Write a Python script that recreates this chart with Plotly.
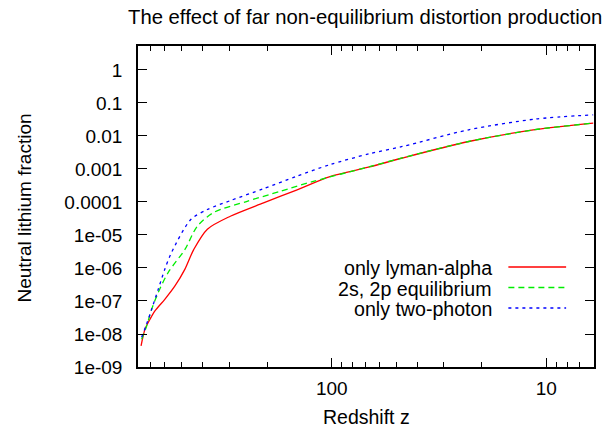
import plotly.graph_objects as go

# ---- data ----
z_red = [774, 742, 703, 667, 600, 539, 484, 440, 380, 297, 208, 146, 102, 66.7, 46.9, 23, 11.3, 6.05]
y_red = [4.4e-9, 1.4e-8, 2.8e-8, 5.0e-8, 1.12e-7, 2.8e-7, 9.1e-7, 3.6e-6, 1.5e-5, 3.7e-5, 9.4e-5, 2.3e-4, 5.9e-4, 1.15e-3, 2.15e-3, 6.8e-3, 0.0155, 0.0245]

z_green = [769, 729, 691, 644, 578, 484, 423, 355, 248, 174, 122, 66.7, 46.9, 23, 11.3, 6.05]
y_green = [6.9e-9, 1.75e-8, 5.6e-8, 1.8e-7, 7.4e-7, 3.6e-6, 1.85e-5, 4.8e-5, 1.05e-4, 2.1e-4, 4.2e-4, 1.17e-3, 2.17e-3, 6.8e-3, 0.0155, 0.0245]

z_blue = [769, 729, 691, 644, 600, 558, 454, 380, 297, 209, 146, 102, 66.7, 46.9, 23, 11.3, 6.05]
y_blue = [8.0e-9, 2.0e-8, 5.6e-8, 2.25e-7, 9.1e-7, 2.95e-6, 2.95e-5, 5.9e-5, 1.1e-4, 2.5e-4, 6.0e-4, 1.35e-3, 2.9e-3, 4.8e-3, 0.0154, 0.0324, 0.0437]

series_names = ["only lyman-alpha", "2s, 2p equilibrium", "only two-photon"]
series_colors = ["#ff0000", "#00ee00", "#0000ff"]
series_dash = ["solid", "6px,4px", "3px,4px"]

x_tickvals = [100, 10]
x_ticktext = ["100", "10"]
x_minor = [800, 700, 600, 500, 400, 300, 200, 90, 80, 70, 60, 50, 40, 30, 20, 9, 8, 7]
y_tickvals = [1, 0.1, 0.01, 0.001, 0.0001, 1e-5, 1e-6, 1e-7, 1e-8, 1e-9]
y_ticktext = ["1", "0.1", "0.01", "0.001", "0.0001", "1e-05", "1e-06", "1e-07", "1e-08", "1e-09"]

FONT = "Liberation Sans, Arial, sans-serif"
FS = 19

fig = go.Figure()
for zs, ys, name, col, dash in zip([z_red, z_green, z_blue], [y_red, y_green, y_blue],
                                   series_names, series_colors, series_dash):
    fig.add_trace(go.Scatter(x=zs, y=ys, mode="lines", name=name,
                             line=dict(color=col, width=1.3, dash=dash, shape="spline", smoothing=0.8),
                             showlegend=False))

# gnuplot-style legend: right aligned text, sample on right
L, R, T, B = 138, 12, 46, 61
W, H = 608 - L - R, 428 - T - B
def px(x): return (x - L) / W
def py(y): return (428 - B - y) / H

leg_y = [268, 288.5, 309]
for name, col, dash, yy in zip(series_names, series_colors, series_dash, leg_y):
    fig.add_annotation(x=px(496), y=py(yy), xref="paper", yref="paper", text=name,
                       showarrow=False, xanchor="right", yanchor="middle",
                       font=dict(family=FONT, size=19.6, color="black"))
    fig.add_shape(type="line", xref="paper", yref="paper", x0=px(510), x1=px(568),
                  y0=py(yy - 1), y1=py(yy - 1), line=dict(color=col, width=1.3, dash=dash))

fig.add_annotation(x=px(367), y=py(417), xref="paper", yref="paper", text="Redshift z",
                   showarrow=False, xanchor="center", yanchor="middle",
                   font=dict(family=FONT, size=19.5, color="black"))
fig.add_annotation(x=px(24), y=py(208), xref="paper", yref="paper", text="Neutral lithium fraction",
                   showarrow=False, xanchor="center", yanchor="middle", textangle=-90,
                   font=dict(family=FONT, size=FS, color="black"))
fig.add_annotation(x=px(366), y=py(17), xref="paper", yref="paper",
                   text="The effect of far non-equilibrium distortion production",
                   showarrow=False, xanchor="center", yanchor="middle",
                   font=dict(family=FONT, size=20.3, color="black"))

fig.update_xaxes(type="log", range=[2.903, 0.778], tickvals=x_tickvals, ticktext=x_ticktext,
                 ticks="inside", ticklen=9, tickwidth=1.3, tickcolor="black",
                 showline=True, linecolor="black", linewidth=1.5, mirror="allticks",
                 showgrid=False, zeroline=False, ticklabelstandoff=3,
                 tickfont=dict(family=FONT, size=FS, color="black"),
                 minor=dict(tickvals=x_minor, ticks="inside", ticklen=5, tickwidth=1.2,
                            tickcolor="black", showgrid=False))
fig.update_yaxes(type="log", range=[-9, 0.726], tickvals=y_tickvals, ticktext=y_ticktext,
                 ticks="inside", ticklen=9, tickwidth=1.3, tickcolor="black",
                 showline=True, linecolor="black", linewidth=1.5, mirror="allticks",
                 showgrid=False, zeroline=False, ticklabelstandoff=10,
                 tickfont=dict(family=FONT, size=FS, color="black"))

fig.update_layout(width=608, height=428, margin=dict(l=L, r=R, t=T, b=B, pad=0),
                  paper_bgcolor="white", plot_bgcolor="white", showlegend=False,
                  font=dict(family=FONT, size=FS, color="black"))

fig.write_html("out.html", config={"displayModeBar": False},
               post_script="document.body.style.margin='0';document.body.style.padding='0';")
